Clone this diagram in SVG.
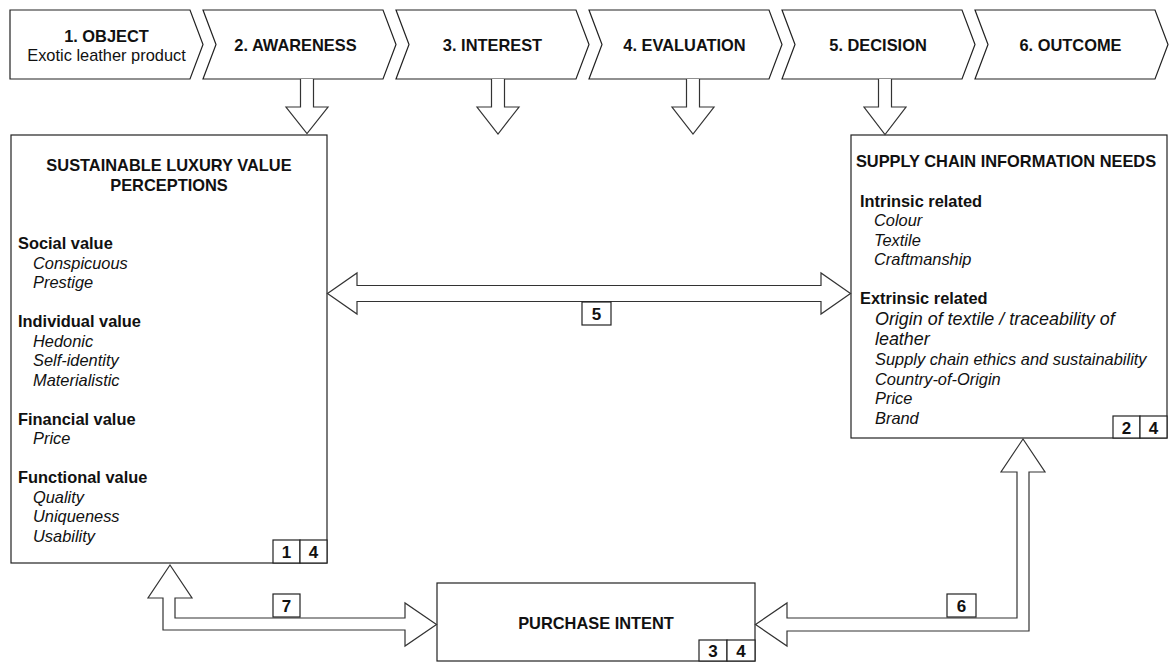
<svg xmlns="http://www.w3.org/2000/svg" width="1169" height="662" viewBox="0 0 1169 662">
  <style>
    .shape { fill: #ffffff; stroke: #222222; stroke-width: 1.2; }
    .arrow { fill: #ffffff; stroke: #333333; stroke-width: 1.2; stroke-linejoin: miter; }
    text { font-family: "Liberation Sans", Arial, Helvetica, sans-serif; fill: #111111; font-size: 16.4px; }
    .b { font-weight: bold; }
    .i { font-style: italic; }
    .c { text-anchor: middle; }
    .cell { font-weight: bold; text-anchor: middle; font-size: 17px; }
  </style>

  <rect x="0" y="0" width="1169" height="662" fill="#ffffff"/>

  <!-- Process steps -->
  <g id="step1">
    <path class="shape" d="M10,10 L190,10 L203,44.5 L190,79 L10,79 Z"/>
    <text class="b c" x="106.5" y="41.5">1. OBJECT</text>
    <text class="c" x="106.5" y="60.5">Exotic leather product</text>
  </g>
  <g id="step2">
    <path class="shape" d="M203,10 L383,10 L396,44.5 L383,79 L203,79 L216,44.5 Z"/>
    <text class="b c" x="295.5" y="50.5">2. AWARENESS</text>
  </g>
  <g id="step3">
    <path class="shape" d="M396,10 L576,10 L589,44.5 L576,79 L396,79 L409,44.5 Z"/>
    <text class="b c" x="492.5" y="50.5">3. INTEREST</text>
  </g>
  <g id="step4">
    <path class="shape" d="M589,10 L769,10 L782,44.5 L769,79 L589,79 L602,44.5 Z"/>
    <text class="b c" x="684.5" y="50.5">4. EVALUATION</text>
  </g>
  <g id="step5">
    <path class="shape" d="M782,10 L962,10 L975,44.5 L962,79 L782,79 L795,44.5 Z"/>
    <text class="b c" x="878" y="50.5">5. DECISION</text>
  </g>
  <g id="step6">
    <path class="shape" d="M975,10 L1155,10 L1168,44.5 L1155,79 L975,79 L988,44.5 Z"/>
    <text class="b c" x="1070.5" y="50.5">6. OUTCOME</text>
  </g>

  <!-- Value perceptions -->
  <g id="value-perceptions">
    <rect class="shape" x="11" y="135" width="316" height="428"/>
    <text class="b c" x="169" y="171">SUSTAINABLE LUXURY VALUE</text>
    <text class="b c" x="169" y="190.5">PERCEPTIONS</text>
    <text class="b" x="18" y="249">Social value</text>
    <text class="i" x="33" y="268.5">Conspicuous</text>
    <text class="i" x="33" y="288">Prestige</text>
    <text class="b" x="18" y="327">Individual value</text>
    <text class="i" x="33" y="346.5">Hedonic</text>
    <text class="i" x="33" y="366">Self-identity</text>
    <text class="i" x="33" y="385.5">Materialistic</text>
    <text class="b" x="18" y="424.5">Financial value</text>
    <text class="i" x="33" y="444">Price</text>
    <text class="b" x="18" y="483">Functional value</text>
    <text class="i" x="33" y="502.5">Quality</text>
    <text class="i" x="33" y="522">Uniqueness</text>
    <text class="i" x="33" y="541.5">Usability</text>
    <rect class="shape" x="273" y="540" width="27" height="23"/>
    <rect class="shape" x="300" y="540" width="27" height="23"/>
    <text class="cell" x="286.5" y="558">1</text>
    <text class="cell" x="313.5" y="558">4</text>
  </g>

  <!-- Information needs -->
  <g id="information-needs">
    <rect class="shape" x="851" y="135" width="316" height="303"/>
    <text class="b c" x="1006" y="166.5">SUPPLY CHAIN INFORMATION NEEDS</text>
    <text class="b" x="860" y="206.5">Intrinsic related</text>
    <text class="i" x="874" y="226">Colour</text>
    <text class="i" x="874" y="245.5">Textile</text>
    <text class="i" x="874" y="265">Craftmanship</text>
    <text class="b" x="860" y="304">Extrinsic related</text>
    <text class="i" x="875" y="324.5" style="font-size:17.9px">Origin of textile / traceability of</text>
    <text class="i" x="875" y="345" style="font-size:17.9px">leather</text>
    <text class="i" x="875" y="365">Supply chain ethics and sustainability</text>
    <text class="i" x="875" y="384.5">Country-of-Origin</text>
    <text class="i" x="875" y="404">Price</text>
    <text class="i" x="875" y="423.5">Brand</text>
    <rect class="shape" x="1113" y="416" width="27" height="22"/>
    <rect class="shape" x="1140" y="416" width="27" height="22"/>
    <text class="cell" x="1126.5" y="433.5">2</text>
    <text class="cell" x="1153.5" y="433.5">4</text>
  </g>

  <!-- Purchase intent -->
  <g id="purchase-intent">
    <rect class="shape" x="437" y="583" width="318" height="78"/>
    <text class="b c" x="596" y="629">PURCHASE INTENT</text>
    <rect class="shape" x="699" y="640" width="28" height="21"/>
    <rect class="shape" x="727" y="640" width="28" height="21"/>
    <text class="cell" x="713" y="657">3</text>
    <text class="cell" x="741" y="657">4</text>
  </g>

  <!-- Connectors -->
  <g id="connectors">
    <path class="arrow" d="M300.5,79 L300.5,107 L286,107 L307,133.5 L328,107 L313.5,107 L313.5,79"/>
    <path class="arrow" d="M491.5,79 L491.5,107 L477,107 L498,134 L519,107 L504.5,107 L504.5,79"/>
    <path class="arrow" d="M686.5,79 L686.5,107 L672,107 L693,134 L714,107 L699.5,107 L699.5,79"/>
    <path class="arrow" d="M878.5,79 L878.5,107 L864,107 L885,134.5 L906,107 L891.5,107 L891.5,79"/>

    <path class="arrow" d="M327.5,293.5 L357,273 L357,285.5 L821,285.5 L821,273 L850.5,293.5 L821,314 L821,301.5 L357,301.5 L357,314 Z"/>

    <path class="arrow" d="M170,565 L192,598 L175,598 L175,618 L405,618 L405,603 L436.5,624.5 L405,646 L405,630 L163,630 L163,598 L148,598 Z"/>

    <path class="arrow" d="M1023,439 L1045,472 L1029,472 L1029,631 L787,631 L787,646 L755.5,624.5 L787,603 L787,618 L1017,618 L1017,472 L1001,472 Z"/>

    <rect class="shape" x="582" y="302" width="29" height="23"/>
    <text class="cell" x="596.5" y="320">5</text>
    <rect class="shape" x="273" y="594" width="27" height="23"/>
    <text class="cell" x="286.5" y="612">7</text>
    <rect class="shape" x="947" y="594" width="29" height="23"/>
    <text class="cell" x="961.5" y="612">6</text>
  </g>
</svg>
